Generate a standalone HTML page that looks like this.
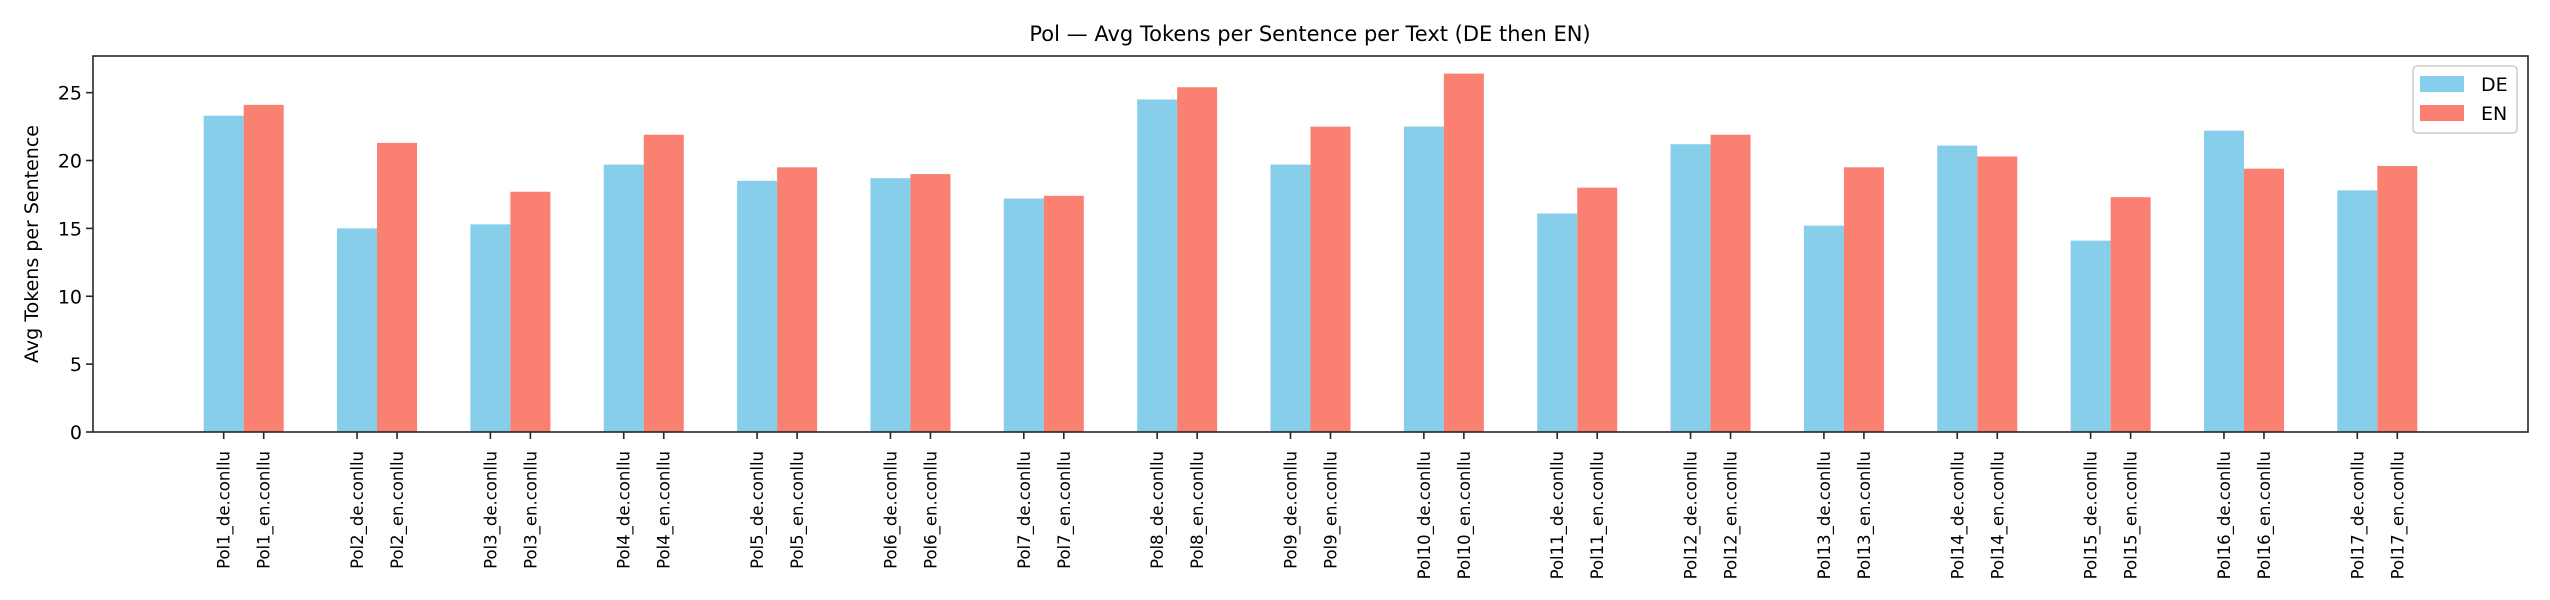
<!DOCTYPE html>
<html><head><meta charset="utf-8"><style>
body{margin:0;background:#fff;}
svg{display:block;font-family:"DejaVu Sans","Liberation Sans",sans-serif;}
</style></head><body>
<svg id="chart" width="2550" height="600" viewBox="0 0 2550 600">
<text x="1310" y="41" text-anchor="middle" font-size="21" fill="#000">Pol — Avg Tokens per Sentence per Text (DE then EN)</text>
<text transform="translate(38,244) rotate(-90)" text-anchor="middle" font-size="19" fill="#000">Avg Tokens per Sentence</text>
<g id="bars"></g><g id="yticks"></g><g id="xticks"></g>
<rect x="93" y="56" width="2435" height="376" fill="none" stroke="#262626" stroke-width="1.6"/>
<g>
<rect x="2413" y="66" width="104" height="67" rx="4" fill="#fff" stroke="#ccc" stroke-width="1.5"/>
<rect x="2420" y="76" width="44" height="16" fill="#87CEEB"/>
<text x="2481" y="91" font-size="19">DE</text>
<rect x="2420" y="105" width="44" height="16" fill="#FA8072"/>
<text x="2481" y="120" font-size="19">EN</text>
</g>
</svg>
<script>
const groups=["Pol1","Pol2","Pol3","Pol4","Pol5","Pol6","Pol7","Pol8","Pol9","Pol10","Pol11","Pol12","Pol13","Pol14","Pol15","Pol16","Pol17"];
const deValues=[23.3,15.0,15.3,19.7,18.5,18.7,17.2,24.5,19.7,22.5,16.1,21.2,15.2,21.1,14.1,22.2,17.8];
const enValues=[24.1,21.3,17.7,21.9,19.5,19.0,17.4,25.4,22.5,26.4,18.0,21.9,19.5,20.3,17.3,19.4,19.6];
const yTicks=[0,5,10,15,20,25];
const NS="http://www.w3.org/2000/svg";
const x0=93,x1=2528,y0=432,y1=56;
const xmin=-1.13,xmax=groups.length-1+1.13,ymax=27.7;
const xs=v=>x0+(v-xmin)/(xmax-xmin)*(x1-x0);
const ys=v=>y0-v/ymax*(y0-y1);
const bw=0.3;
function mk(tag,attrs,parent){const e=document.createElementNS(NS,tag);for(const k in attrs)e.setAttribute(k,attrs[k]);parent.appendChild(e);return e;}
const bars=document.getElementById('bars'),yt=document.getElementById('yticks'),xt=document.getElementById('xticks');
groups.forEach((g,i)=>{
  [[deValues[i],-bw/2,'#87CEEB','de'],[enValues[i],bw/2,'#FA8072','en']].forEach(([v,off,c,l])=>{
    const cx=i+off;
    const r=mk('rect',{x:xs(cx-bw/2),y:ys(v),width:xs(cx+bw/2)-xs(cx-bw/2),height:ys(0)-ys(v),fill:c},bars);
    
    
    const px=xs(cx);
    const t=mk('line',{x1:px,x2:px,y1:y0,y2:y0+7,stroke:'#262626','stroke-width':1.6},xt);
    
    
    const tx=mk('text',{transform:`translate(${px+6},451) rotate(-90)`,'text-anchor':'end','font-size':'16.5',fill:'#000'},xt);
    tx.textContent=g+'_'+l+'.conllu';
    
    
  });
});
yTicks.forEach(v=>{
  const y=ys(v);
  const l=mk('line',{x1:x0-7,x2:x0,y1:y,y2:y,stroke:'#262626','stroke-width':1.6},yt);
  
  
  const t=mk('text',{x:x0-11,y:y+7,'text-anchor':'end','font-size':'19',fill:'#000'},yt);
  t.textContent=v;
  
  
});
</script>
</body></html>
